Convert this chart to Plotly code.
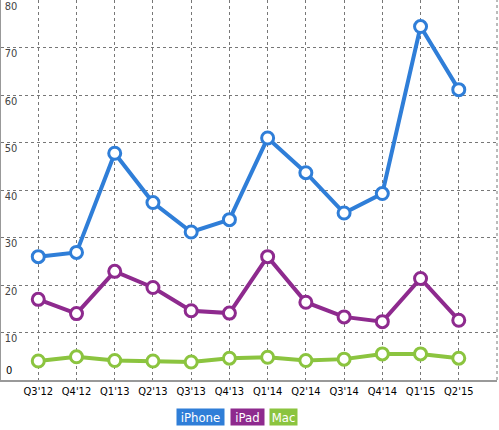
import plotly.graph_objects as go

quarters = ["Q3'12", "Q4'12", "Q1'13", "Q2'13", "Q3'13", "Q4'13",
            "Q1'14", "Q2'14", "Q3'14", "Q4'14", "Q1'15", "Q2'15"]
iphone = [26.0, 26.9, 47.8, 37.4, 31.2, 33.8, 51.0, 43.7, 35.2, 39.3, 74.5, 61.2]
ipad = [17.0, 14.0, 22.9, 19.5, 14.6, 14.1, 26.0, 16.4, 13.3, 12.3, 21.4, 12.6]
mac = [4.0, 4.9, 4.1, 4.0, 3.8, 4.6, 4.8, 4.1, 4.4, 5.5, 5.5, 4.6]
y_ticks = [10, 20, 30, 40, 50, 60, 70, 80]

series = [("iPhone", iphone, "#2f7ed8"), ("iPad", ipad, "#8e2a8e"), ("Mac", mac, "#8bc43f")]
font = "DejaVu Sans Condensed, DejaVu Sans, sans-serif"

fig = go.Figure()
for name, vals, col in series:
    fig.add_trace(go.Scatter(x=quarters, y=vals, name=name, mode="lines+markers",
                             line=dict(color=col, width=4),
                             marker=dict(symbol="circle", size=12, color="white",
                                         line=dict(color=col, width=3))))

fig.update_layout(
    width=499, height=430, showlegend=False,
    margin=dict(l=1, r=2, t=0, b=50),
    plot_bgcolor="white", paper_bgcolor="white",
    font=dict(family=font, size=11, color="black"),
)
fig.update_xaxes(type="category", range=[-0.975, 12], automargin=False,
                 showgrid=True, gridcolor="#777", griddash="dot", gridwidth=1,
                 showline=True, linecolor="#999", linewidth=2,
                 ticks="", tickfont=dict(size=11), zeroline=False)
fig.update_yaxes(range=[0, 80.1], automargin=False, tickvals=y_ticks,
                 showgrid=True, gridcolor="#777", griddash="dot", gridwidth=1,
                 showline=True, linecolor="#999", linewidth=2,
                 ticks="", ticklabelposition="inside bottom", ticklabelshift=-2,
                 ticklabelstandoff=2, tickfont=dict(size=11), zeroline=False)

# right-edge dotted grid line and the 0 label
fig.add_shape(type="line", xref="paper", yref="paper", x0=1, x1=1, y0=0, y1=1,
              line=dict(color="#777", width=1, dash="dot"))
fig.add_annotation(x=0, xref="paper", y=0, yref="y", text="0", showarrow=False,
                   xanchor="left", yanchor="bottom", xshift=3, yshift=1,
                   font=dict(size=11))

# legend as coloured boxes under the plot
legend_x = [0.402, 0.497, 0.570]
legend_w = [45, 31, 25]
for (name, vals, col), lx, w in zip(series, legend_x, legend_w):
    fig.add_annotation(x=lx, xref="paper", y=-0.097, yref="paper",
                       text=name, showarrow=False, bgcolor=col,
                       font=dict(color="white", size=13),
                       width=w, height=14, borderpad=1,
                       xanchor="center", yanchor="middle")

fig.write_html("out.html", config={"displayModeBar": False},
               post_script="document.body.style.margin='0';")
